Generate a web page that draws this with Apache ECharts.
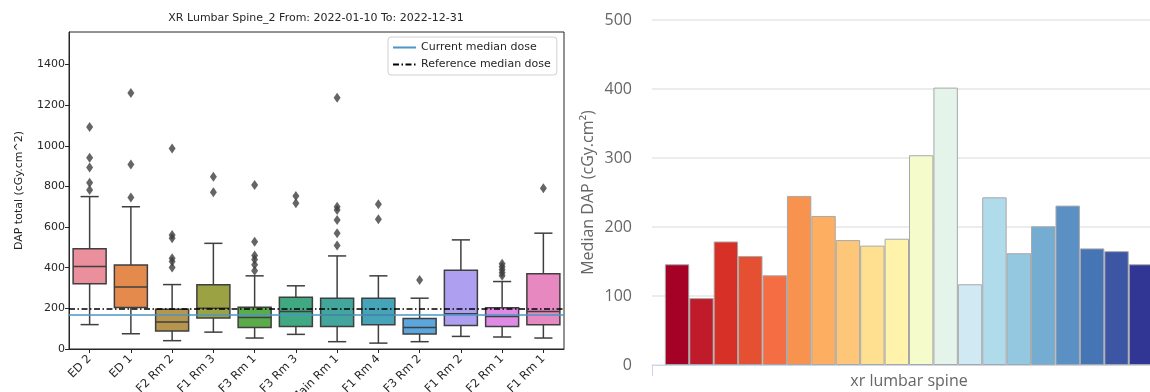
<!DOCTYPE html>
<html>
<head>
<meta charset="utf-8">
<script src="https://cdn.jsdelivr.net/npm/echarts@6/dist/echarts.min.js"></script>
<style>html,body{margin:0;padding:0;background:#fff}#c{width:1150px;height:392px}</style>
</head>
<body>
<div id="c"></div>
<script>
// ---------- data ----------
const boxCategories = ['ED 2','ED 1','F2 Rm 2','F1 Rm 3','F3 Rm 1','F3 Rm 3','Main Rm 1','F1 Rm 4','F3 Rm 2','F1 Rm 2','F2 Rm 1','F1 Rm 1'];
// [lower whisker, Q1, median, Q3, upper whisker]
const boxStats = [
  [120, 321, 406, 493, 750],
  [75, 204, 305, 413, 700],
  [41, 88, 133, 196, 317],
  [83, 152, 201, 316, 520],
  [54, 106, 155, 206, 360],
  [72, 111, 185, 255, 311],
  [36, 111, 167, 250, 458],
  [29, 119, 167, 250, 360],
  [36, 74, 106, 150, 250],
  [62, 116, 173, 388, 537],
  [59, 111, 160, 203, 332],
  [54, 119, 185, 370, 570]
];
const boxOutliers = [
  [1093, 941, 893, 818, 783],
  [1260, 908, 745],
  [987, 561, 545, 447, 430, 401],
  [848, 771],
  [807, 528, 460, 440, 415, 385],
  [753, 717],
  [1236, 700, 684, 635, 570, 509],
  [712, 638],
  [340],
  [],
  [420, 405, 390, 375, 360],
  [791]
];
const currentMedianDose = 167;
const referenceMedianDose = 200;
const boxYTicks = [0, 200, 400, 600, 800, 1000, 1200, 1400];

const barCategory = ['xr lumbar spine'];
const barValues = [146, 97, 179, 158, 130, 245, 216, 181, 173, 183, 304, 402, 117, 243, 162, 201, 231, 169, 165, 146];
const barYTicks = [0, 100, 200, 300, 400, 500];

// ---------- styles ----------
const boxColors = ['#ec8f9c','#e48a4d','#b6954e','#9ba244','#5cab4b','#41a982','#43a69c','#45a4b8','#5ca6de','#ae9ff0','#df8be6','#e888c0'];
const barColors = ['#a50026','#bf1b2a','#d73027','#e54f32','#f46d43','#f8924f','#fdae61','#fec678','#fee090','#fff3ac','#f6fbcb','#e4f4ea','#d0e9f3','#b0dbea','#94c7e0','#74add1','#5a90c3','#4575b4','#3c56a4','#313695'];

const dark = '#3f3f3f';
const txt = '#262626';
const curColor = '#4a97c6';

const boxData = boxStats.map((s, i) => [i].concat(s));
const outlierData = [];
boxOutliers.forEach((arr, i) => arr.forEach(v => outlierData.push([i, v])));

const barSeries = barValues.map((v, i) => ({
  type: 'bar',
  name: 'Series ' + (i + 1),
  xAxisIndex: 1,
  yAxisIndex: 1,
  data: [v],
  barGap: '0%',
  barCategoryGap: '5%',
  itemStyle: { color: barColors[i], borderColor: '#a8a8a8', borderWidth: 1 }
}));

const chart = echarts.init(document.getElementById('c'));
chart.setOption({
  animation: false,
  backgroundColor: '#fff',
  title: {
    text: 'XR Lumbar Spine_2 From: 2022-01-10 To: 2022-12-31',
    left: 316, top: 13, textAlign: 'center', padding: 0,
    textStyle: { fontFamily: 'DejaVu Sans', fontSize: 11, fontWeight: 'normal', color: txt }
  },
  legend: {
    data: [
      { name: 'Current median dose', itemStyle: { opacity: 0 } },
      { name: 'Reference median dose', itemStyle: { opacity: 0 } }
    ],
    orient: 'vertical', left: 388, top: 37,
    itemWidth: 23, itemHeight: 11, itemGap: 6,
    padding: [5, 6, 5, 4],
    itemStyle: { opacity: 0 },
    borderColor: '#d0d0d0', borderWidth: 1, borderRadius: 3,
    backgroundColor: 'rgba(255,255,255,0.85)',
    textStyle: { fontFamily: 'DejaVu Sans', fontSize: 11, color: txt }
  },
  grid: [
    { left: 69, top: 32, width: 495, height: 317, outerBoundsMode: 'none', containLabel: false,
      show: true, borderColor: txt, borderWidth: 1, backgroundColor: 'transparent' },
    { left: 652, top: 20, width: 514, height: 345, outerBoundsMode: 'none', containLabel: false }
  ],
  xAxis: [
    {
      type: 'category', gridIndex: 0, data: boxCategories,
      axisLine: { show: true, lineStyle: { color: txt } },
      axisTick: { show: true, alignWithLabel: true, length: 4, lineStyle: { color: txt } },
      axisLabel: { rotate: 45, margin: 8, fontFamily: 'DejaVu Sans', fontSize: 11.5, color: txt, interval: 0 },
      splitLine: { show: false }
    },
    {
      type: 'category', gridIndex: 1, data: barCategory,
      axisLine: { show: true, lineStyle: { color: '#ccd6eb' } },
      axisTick: { show: true, alignWithLabel: false, length: 11, lineStyle: { color: '#ccd6eb' } },
      axisLabel: { margin: 8, fontFamily: 'Open Sans', fontSize: 16, color: '#666' }
    }
  ],
  yAxis: [
    {
      type: 'value', gridIndex: 0, min: 0, max: 1560, interval: 200,
      name: 'DAP total (cGy.cm^2)', nameLocation: 'middle', nameRotate: 90, nameGap: 44,
      nameTextStyle: { fontFamily: 'DejaVu Sans', fontSize: 11, color: txt },
      axisLine: { show: true, lineStyle: { color: txt } },
      axisTick: { show: true, length: 4, lineStyle: { color: txt }, customValues: boxYTicks },
      axisLabel: { margin: 4, fontFamily: 'DejaVu Sans', fontSize: 11, color: txt, customValues: boxYTicks,
        formatter: v => String(v) },
      splitLine: { show: false }
    },
    {
      type: 'value', gridIndex: 1, min: 0, max: 500, interval: 100,
      name: 'Median DAP (cGy.cm²)', nameLocation: 'middle', nameRotate: 90, nameGap: 56,
      nameTextStyle: { fontFamily: 'Open Sans', fontSize: 16, color: '#666' },
      axisLine: { show: false }, axisTick: { show: false },
      axisLabel: { margin: 20, fontFamily: 'Open Sans', fontSize: 16, color: '#666', customValues: barYTicks },
      splitLine: { show: true, lineStyle: { color: '#e6e6e6', width: 1.5 } }
    }
  ],
  series: [
    {
      type: 'custom', name: 'boxes', xAxisIndex: 0, yAxisIndex: 0, z: 2,
      data: boxData,
      encode: { x: 0, y: [1, 2, 3, 4, 5] },
      renderItem: function (params, api) {
        const i = api.value(0);
        const band = api.size([1, 0])[0];
        const bw = band * 0.8, cw = band * 0.44;
        const pMin = api.coord([i, api.value(1)]);
        const pQ1 = api.coord([i, api.value(2)]);
        const pMed = api.coord([i, api.value(3)]);
        const pQ3 = api.coord([i, api.value(4)]);
        const pMax = api.coord([i, api.value(5)]);
        const x = pMed[0];
        const ls = { stroke: dark, lineWidth: 1.5 };
        return {
          type: 'group',
          children: [
            { type: 'line', shape: { x1: x, y1: pQ1[1], x2: x, y2: pMin[1] }, style: ls },
            { type: 'line', shape: { x1: x, y1: pQ3[1], x2: x, y2: pMax[1] }, style: ls },
            { type: 'line', shape: { x1: x - cw / 2, y1: pMin[1], x2: x + cw / 2, y2: pMin[1] }, style: ls },
            { type: 'line', shape: { x1: x - cw / 2, y1: pMax[1], x2: x + cw / 2, y2: pMax[1] }, style: ls },
            { type: 'rect', shape: { x: x - bw / 2, y: pQ3[1], width: bw, height: pQ1[1] - pQ3[1] },
              style: { fill: boxColors[i], stroke: dark, lineWidth: 1.5 } },
            { type: 'line', shape: { x1: x - bw / 2, y1: pMed[1], x2: x + bw / 2, y2: pMed[1] }, style: ls }
          ]
        };
      }
    },
    {
      type: 'scatter', name: 'outliers', xAxisIndex: 0, yAxisIndex: 0, z: 3,
      data: outlierData, symbol: 'diamond', symbolSize: [7, 10],
      itemStyle: { color: dark }
    },
    {
      type: 'line', name: 'Current median dose', xAxisIndex: 0, yAxisIndex: 0, z: 4,
      data: [], symbol: 'none', showSymbol: false,
      itemStyle: { color: curColor },
      lineStyle: { color: curColor, width: 1.5 },
      markLine: {
        silent: true, symbol: 'none', label: { show: false },
        lineStyle: { color: curColor, width: 1.5, type: 'solid' },
        data: [{ yAxis: currentMedianDose }]
      }
    },
    {
      type: 'line', name: 'Reference median dose', xAxisIndex: 0, yAxisIndex: 0, z: 5,
      data: [], symbol: 'none', showSymbol: false,
      itemStyle: { color: '#000' },
      lineStyle: { color: '#000', width: 1.5, type: [6, 2.5, 1.5, 2.5] },
      markLine: {
        silent: true, symbol: 'none', label: { show: false },
        lineStyle: { color: '#000', width: 1.5, type: [6, 2.5, 1.5, 2.5] },
        data: [{ yAxis: referenceMedianDose }]
      }
    }
  ].concat(barSeries)
});
</script>
</body>
</html>
